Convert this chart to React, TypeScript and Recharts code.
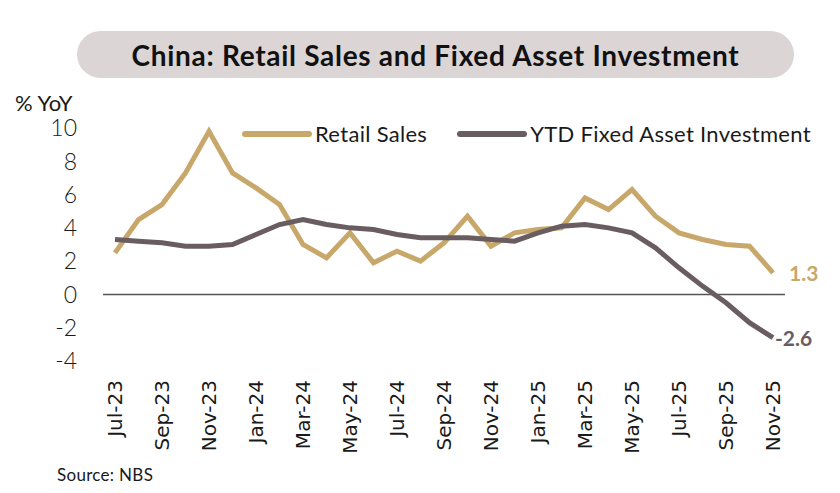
import React from "react";
import {
  LineChart,
  Line,
  XAxis,
  YAxis,
  ReferenceLine,
  Legend
} from "recharts";

// months Jul-23 .. Nov-25
const months = [
  "Jul-23", "Aug-23", "Sep-23", "Oct-23", "Nov-23", "Dec-23",
  "Jan-24", "Feb-24", "Mar-24", "Apr-24", "May-24", "Jun-24",
  "Jul-24", "Aug-24", "Sep-24", "Oct-24", "Nov-24", "Dec-24",
  "Jan-25", "Feb-25", "Mar-25", "Apr-25", "May-25", "Jun-25",
  "Jul-25", "Aug-25", "Sep-25", "Oct-25", "Nov-25"
];

// % YoY
const retailSales = [
  2.5, 4.5, 5.4, 7.3, 9.8, 7.3,
  6.4, 5.4, 3.0, 2.2, 3.7, 1.9,
  2.6, 2.0, 3.1, 4.7, 2.9, 3.7,
  3.9, 4.0, 5.8, 5.1, 6.3, 4.7,
  3.7, 3.3, 3.0, 2.9, 1.3
];

const fixedAssetInvestment = [
  3.3, 3.2, 3.1, 2.9, 2.9, 3.0,
  3.6, 4.2, 4.5, 4.2, 4.0, 3.9,
  3.6, 3.4, 3.4, 3.4, 3.3, 3.2,
  3.7, 4.1, 4.2, 4.0, 3.7, 2.8,
  1.6, 0.5, -0.5, -1.7, -2.6
];

const yTicks = [-4, -2, 0, 2, 4, 6, 8, 10];

const GOLD = "#C8A86A";
const GREY = "#6A5D62";
const FONT = "Lato, 'Noto Sans', sans-serif";

const data = months.map((m, i) => ({
  month: m,
  retail: retailSales[i],
  fai: fixedAssetInvestment[i]
}));

const last = months.length - 1;

const XTick = (props: any) => {
  const { x, y, payload } = props;
  const ty = y + 11;
  return (
    <text
      x={x}
      y={ty}
      dy="0.36em"
      textAnchor="end"
      transform={`rotate(-90, ${x}, ${ty})`}
      fontFamily="'DejaVu Sans', Verdana, sans-serif"
      fontSize={20}
      fill="#1a1a1a"
    >
      {payload.value}
    </text>
  );
};

const YTick = (props: any) => {
  const { y, payload } = props;
  return (
    <text
      x={77}
      y={y}
      dy="0.36em"
      textAnchor="end"
      fontFamily={FONT}
      fontWeight={300}
      fontSize={23}
      fill="#1a1a1a"
    >
      {payload.value}
    </text>
  );
};

const endLabel = (color: string, dx: number) => (props: any) => {
  const { x, y, index, value } = props;
  if (index !== last) return null;
  return (
    <text
      x={x + dx}
      y={y + 1}
      dy="0.36em"
      fontFamily={FONT}
      fontWeight={700}
      fontSize={21}
      fill={color}
    >
      {value}
    </text>
  );
};

const LegendContent = () => {
  const items = [
    { name: "Retail Sales", color: GOLD, gap: 30 },
    { name: "YTD Fixed Asset Investment", color: GREY, gap: 0 }
  ];
  return (
    <div style={{ display: "flex", alignItems: "center" }}>
      {items.map((it) => (
        <div
          key={it.name}
          style={{ display: "flex", alignItems: "center", marginRight: it.gap }}
        >
          <svg width={70} height={10}>
            <line
              x1={3}
              y1={5}
              x2={67}
              y2={5}
              stroke={it.color}
              strokeWidth={6}
              strokeLinecap="round"
            />
          </svg>
          <span
            style={{
              fontFamily: FONT,
              fontSize: 22,
              letterSpacing: 0.3,
              color: "#1a1a1a",
              marginLeft: 3
            }}
          >
            {it.name}
          </span>
        </div>
      ))}
    </div>
  );
};

const App: React.FC = () => {
  return (
    <div
      style={{
        position: "absolute",
        left: 0,
        top: 0,
        width: 840,
        height: 493,
        background: "#fff",
        fontFamily: FONT
      }}
    >
      <div
        style={{
          position: "absolute",
          left: 77,
          top: 31,
          width: 717,
          height: 47,
          borderRadius: 24,
          background: "#DCD5D5",
          display: "flex",
          alignItems: "center",
          justifyContent: "center",
          fontWeight: 700,
          fontSize: 28,
          letterSpacing: 0.7,
          color: "#111"
        }}
      >
        China: Retail Sales and Fixed Asset Investment
      </div>
      <div
        style={{
          position: "absolute",
          left: 15,
          top: 89,
          fontSize: 22,
          color: "#1a1a1a"
        }}
      >
        % YoY
      </div>
      <div
        style={{
          position: "absolute",
          left: 57,
          top: 464,
          fontSize: 17,
          letterSpacing: 0.3,
          color: "#1a1a1a"
        }}
      >
        Source: NBS
      </div>
      <LineChart
        width={840}
        height={493}
        data={data}
        margin={{ top: 128, right: 55, left: 43, bottom: 32 }}
      >
        <XAxis
          dataKey="month"
          interval={1}
          height={100}
          axisLine={false}
          tickLine={false}
          padding={{ left: 12, right: 12 }}
          tick={<XTick />}
        />
        <YAxis
          width={60}
          domain={[-4, 10]}
          ticks={yTicks}
          axisLine={false}
          tickLine={false}
          tick={<YTick />}
        />
        <ReferenceLine y={0} stroke="#555" strokeWidth={1.5} />
        <Legend
          layout="vertical"
          align="center"
          verticalAlign="middle"
          wrapperStyle={{ top: 120, left: 242, width: 600 }}
          content={<LegendContent />}
        />
        <Line
          type="linear"
          dataKey="retail"
          name="Retail Sales"
          stroke={GOLD}
          strokeWidth={5}
          dot={false}
          isAnimationActive={false}
          label={endLabel(GOLD, 16)}
        />
        <Line
          type="linear"
          dataKey="fai"
          name="YTD Fixed Asset Investment"
          stroke={GREY}
          strokeWidth={5}
          dot={false}
          isAnimationActive={false}
          label={endLabel(GREY, 2)}
        />
      </LineChart>
    </div>
  );
};

export default App;
